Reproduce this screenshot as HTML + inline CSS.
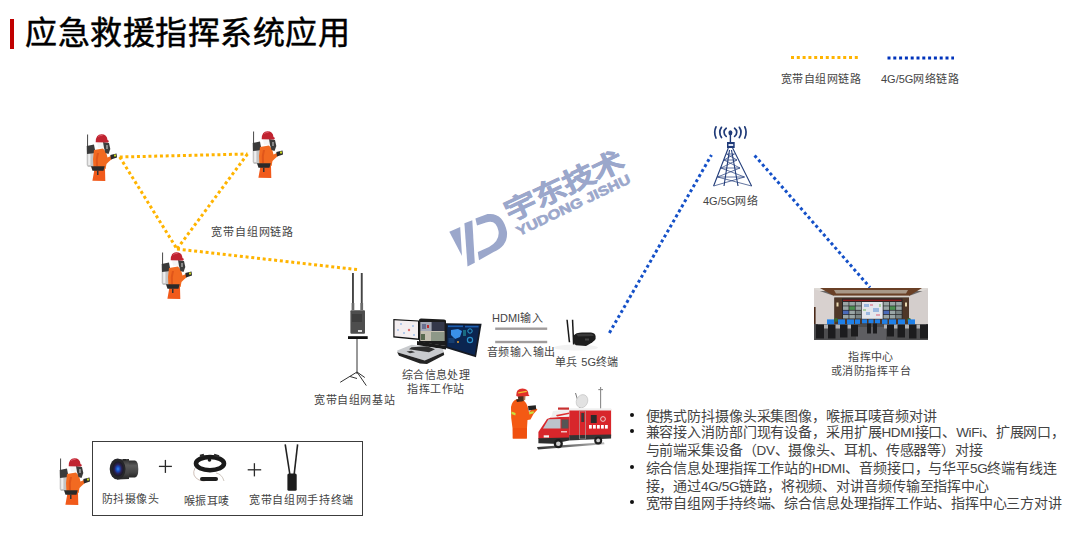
<!DOCTYPE html>
<html lang="zh-CN"><head><meta charset="utf-8">
<style>
html,body{margin:0;padding:0;background:#fff;}
body{width:1080px;height:535px;position:relative;overflow:hidden;font-family:"Liberation Sans",sans-serif;}
.t{position:absolute;white-space:nowrap;color:#444;font-weight:350;font-size:11px;letter-spacing:0.43px;line-height:14px;}
.c{text-align:center;}
#title{position:absolute;left:25px;top:12.5px;font-size:32px;line-height:40px;font-weight:400;color:#000;letter-spacing:0.55px;-webkit-text-stroke:0.5px #000;}
#bar{position:absolute;left:10px;top:19px;width:4px;height:30px;background:#C00000;}
svg{position:absolute;left:0;top:0;}
#bul{position:absolute;left:625px;top:407.5px;font-size:14px;letter-spacing:-0.12px;line-height:16.8px;color:#444;font-weight:350;}
#bul div{position:relative;padding-left:20.5px;white-space:nowrap;}
#bul div:before{content:"";position:absolute;left:5px;top:5px;width:4px;height:4px;border-radius:50%;background:#111;}
#bul div.n:before{display:none;}
.l{font-size:13.5px;letter-spacing:-0.35px;}
.z{letter-spacing:0;}
#box{position:absolute;left:91.5px;top:440.8px;width:271px;height:75.5px;border:1.6px solid #3c3c3c;box-sizing:border-box;}
</style></head><body>
<div id="bar"></div>
<div id="title">应急救援指挥系统应用</div>

<svg width="1080" height="535" viewBox="0 0 1080 535">
<defs>
<symbol id="ff" viewBox="0 0 32 50">
 <path d="M2.6 1.5 L2.5 24" stroke="#333" stroke-width="0.9" fill="none"/>
 <rect x="1.7" y="14" width="7.6" height="20" rx="2.8" fill="#c4c4c4"/>
 <rect x="3.2" y="17" width="2.2" height="15" fill="#efefef"/>
 <path d="M1.7 13 L9 11.5 L10.5 20 L2 21 Z" fill="#3a3a3a"/>
 <path d="M8 34 L9.5 36 L7.4 47.8 L20.3 48 L20 36 L20.5 34 Z" fill="#F15A1B"/>
 <path d="M9 17 L18 15.5 L21 19 L22.5 24.5 L26 23 L28 25 L23.5 29 L21.5 31 L20.5 36 L8.5 36 L8 26 Z" fill="#F26A21"/>
 <path d="M12 20 Q10 26 11 33 L13 33 Q12 26 14 20 Z" fill="#e0561a"/>
 <path d="M6 33.3 L19.7 33.3 L18.5 37.8 L7.5 37.8 Z" fill="#2a2a2a"/>
 <path d="M12 37.8 L13.5 37.8 L13.5 42 L12 42 Z" fill="#333"/>
 <path d="M11.9 8.6 L18.6 8.6 L18.6 14.8 L13 14.8 Z" fill="#f4f4f4"/>
 <path d="M18 9 L24 10 L25.3 16 L23.5 21 L20.5 20 L19 15 Z" fill="#3c3c3c"/>
 <path d="M21 12 L23 12 L23 16 L21 16 Z" fill="#888"/>
 <path d="M10.7 9.2 Q10.7 1.3 16.5 1.3 Q22 1.3 22.5 7 L24 8 L23 9.5 Z" fill="#C02330"/>
 <path d="M13 3.5 Q15 2.2 17.5 2.5" stroke="#e06070" stroke-width="0.8" fill="none"/>
 <path d="M25.3 22 L31.5 20.5 L32 24.5 L26 26.6 Z" fill="#2a2a2a"/>
 <rect x="29" y="21.5" width="2" height="2" fill="#c8d820"/>
</symbol>
</defs>

<!-- legend -->
<line x1="791" y1="57.5" x2="858" y2="57.5" stroke="#FFB400" stroke-width="3" stroke-dasharray="3 2.8"/>
<line x1="887.5" y1="58" x2="954" y2="58" stroke="#0033BB" stroke-width="3" stroke-dasharray="3 2.8"/>

<!-- yellow network -->
<g fill="none" stroke="#FFB400" stroke-width="3" stroke-dasharray="3 2.75">
  <line x1="119.7" y1="157" x2="247.5" y2="154"/>
  <line x1="119.7" y1="157" x2="177" y2="249"/>
  <line x1="247.5" y1="154" x2="177" y2="249"/>
  <line x1="177" y1="249" x2="357" y2="269.6"/>
</g>
<!-- blue -->
<g fill="none" stroke="#1450C8" stroke-width="3" stroke-dasharray="3 2.8">
  <line x1="609.4" y1="332.9" x2="711.5" y2="155"/>
  <line x1="754.6" y1="155.4" x2="870" y2="287.5"/>
</g>


<!-- base station -->
<g>
 <rect x="352" y="273" width="1.9" height="37" fill="#444"/>
 <rect x="360.8" y="273" width="1.9" height="37" fill="#444"/>
 <rect x="351.6" y="303" width="2.7" height="7" fill="#6a6a6a"/>
 <rect x="360.4" y="303" width="2.7" height="7" fill="#6a6a6a"/>
 <rect x="350.4" y="310.2" width="14.6" height="23.6" rx="1" fill="#4e4e4e"/>
 <rect x="352" y="314" width="10" height="8" fill="#3e3e3e"/>
 <rect x="358" y="330" width="4" height="2" fill="#ddd"/>
 <rect x="348" y="336.2" width="19.7" height="2.8" fill="#111"/>
 <g stroke="#333" stroke-width="1" fill="none">
  <line x1="357" y1="339" x2="357" y2="374"/>
  <line x1="357" y1="372" x2="340.2" y2="382.3"/>
  <line x1="357" y1="372" x2="366.3" y2="385.6"/>
  <line x1="357" y1="372" x2="364.8" y2="377.5"/>
  <line x1="350" y1="376.5" x2="357" y2="378.5"/>
 </g>
</g>

<!-- laptop workstation -->
<g>
 <path d="M393.3 319 L419 320.5 L419 340 L393.3 337.5 Z" fill="#111"/>
 <path d="M394.5 320.3 L418 321.6 L418 338.5 L394.5 336.3 Z" fill="#f4eef0"/>
 <circle cx="401" cy="324" r="0.8" fill="#6aa0e0"/><circle cx="409" cy="330" r="1.2" fill="#e07070"/>
 <circle cx="404" cy="333" r="0.8" fill="#6aa0e0"/><circle cx="413" cy="326" r="0.8" fill="#6aa0e0"/>
 <circle cx="398" cy="330" r="0.8" fill="#6aa0e0"/><circle cx="414" cy="335" r="0.8" fill="#6aa0e0"/>
 <path d="M419 320 Q419 318.5 421 318.5 L444 319.5 Q446 319.5 446 321 L446 346 L419 342 Z" fill="#1c1c1c"/>
 <rect x="420.3" y="322" width="11.5" height="9" fill="#a4a8b6"/>
 <rect x="431.8" y="322" width="12.7" height="9" fill="#34384a"/>
 <rect x="420.3" y="331" width="24.2" height="10" fill="#c6c0b2"/>
 <rect x="431" y="332" width="13" height="9" fill="#8e9888"/>
 <rect x="422" y="324" width="4" height="5" fill="#6a7090"/><rect x="427" y="325" width="2" height="3" fill="#c03030"/>
 <rect x="421" y="334" width="4" height="6" fill="#5a6a50"/>
 <path d="M445.8 323.2 L481.6 323.8 L476 357.2 L445.8 348 Z" fill="#161a22"/>
 <path d="M447.3 324.8 L479.6 325.3 L474.6 355 L447.3 346.6 Z" fill="#0b2550"/>
 <rect x="448" y="325.5" width="15" height="1.6" fill="#1e5fb0"/><rect x="465" y="325.8" width="13.5" height="1.6" fill="#1e5fb0"/>
 <path d="M451 330 L458 329 L462 331 L460 337 L455 339 L451 335 Z" fill="#3a90e8"/>
 <circle cx="470" cy="331" r="2.2" fill="none" stroke="#2aa0d0" stroke-width="1"/>
 <circle cx="470" cy="340" r="2.6" fill="none" stroke="#2a90c8" stroke-width="1.2"/>
 <rect x="463" y="330" width="3" height="6" fill="#1a6a80"/>
 <rect x="448.5" y="338" width="6" height="5" fill="#163e70"/>
 <circle cx="458" cy="342" r="1" fill="#e8a030"/>
 <path d="M417 341 L446 346 L446 349.5 L417 345 Z" fill="#1a1a1a"/>
 <path d="M397.2 350.4 L411.6 344.8 L443 349 L443.7 352.3 L424.7 360.5 L397.2 352.2 Z" fill="#c9cbce"/>
 <path d="M411.5 347.3 L427 346.2 L435 349.3 L429 352.3 L409 349.3 Z" fill="#2e2e2e"/>
 <path d="M406.5 351.5 L411.5 350.7 L415 352.2 L410 353.2 Z" fill="#3a3a3a"/>
 <path d="M397.2 352.2 L424.7 360.5 L443.7 352.3 L444.2 355 L427 364 L420 363.5 L399 355.8 Z" fill="#242424"/>
</g>

<!-- HDMI lines -->
<rect x="495.2" y="327.5" width="52" height="2.4" fill="#a09c9c"/>
<rect x="495.2" y="340.8" width="52" height="2.4" fill="#a09c9c"/>

<!-- 5G terminal -->
<g>
 <ellipse cx="576" cy="347.5" rx="22" ry="3" fill="#f2f2f2"/>
 <path d="M566.3 319.7 L567.8 319.7 L570.2 342.2 L568.7 342.2 Z" fill="#1a1a1a"/>
 <path d="M571.8 319.7 L573.3 319.7 L574.4 344.6 L572.9 344.6 Z" fill="#1a1a1a"/>
 <path d="M573.7 335.5 Q576 332.5 582 332.5 L591 332.5 Q595.6 333 595.6 336.5 L595.6 339 Q594 342 586 345.9 L576 345.2 Q573.7 344 573.7 341 Z" fill="#1d1d1d"/>
 <path d="M576 333.8 L592 333.8 L594 336 L578 336.5 Z" fill="#3a3a3a"/>
 <rect x="585" y="338.5" width="4" height="2" fill="#444"/>
</g>

<!-- tower -->
<g stroke="#1f3a78" fill="none">
 <g stroke-width="1.7" stroke-linecap="round">
  <path d="M726.2 128.2 A5 5 0 0 0 726.2 136.4"/>
  <path d="M734.6 128.2 A5 5 0 0 1 734.6 136.4"/>
  <path d="M721.5 127.3 A9 9 0 0 0 721.5 137.5"/>
  <path d="M739.3 127.3 A9 9 0 0 1 739.3 137.5"/>
  <path d="M716 126.8 A13 13 0 0 0 716 138"/>
  <path d="M744.8 126.8 A13 13 0 0 1 744.8 138"/>
 </g>
 <line x1="730.4" y1="135" x2="730.4" y2="142" stroke-width="1.4"/>
 <g stroke-width="1.1">
  <line x1="728.3" y1="148" x2="713.6" y2="186"/>
  <line x1="732.6" y1="148" x2="751.6" y2="186"/>
  <line x1="729.5" y1="150" x2="724" y2="186"/>
  <line x1="731.5" y1="150" x2="738" y2="186"/>
 </g>
 <g stroke-width="0.7">
  <line x1="726.5" y1="154" x2="734.5" y2="154"/>
  <line x1="724" y1="160" x2="737" y2="160"/>
  <line x1="721" y1="168" x2="740" y2="168"/>
  <line x1="717.5" y1="177" x2="744.5" y2="177"/>
  <path d="M726.5 154 L737 160 M734.5 154 L724 160 M724 160 L740 168 M737 160 L721 168 M721 168 L744.5 177 M740 168 L717.5 177 M717.5 177 L751.6 186 M744.5 177 L713.6 186"/>
 </g>
</g>
<ellipse cx="730.4" cy="132.8" rx="2" ry="2.6" fill="#1f3a78"/>
<rect x="727" y="142" width="7.7" height="6" fill="#1f3a78"/>
<rect x="728.5" y="144" width="4.7" height="2" fill="#dfe6f5"/>

<!-- command center photo -->
<g>
 <rect x="814" y="288" width="114" height="52" fill="#6a6868"/>
 <rect x="814" y="288" width="114" height="3" fill="#dedad6"/>
 <path d="M820 288 L922 288 L909 296 L834 296 Z" fill="#6a4026"/>
 <path d="M834 290 L908 290 L906 293.5 L836 293.5 Z" fill="#a89888"/>
 <rect x="834" y="295.6" width="75" height="2" fill="#d6d2cc"/>
 <path d="M814 289 L834.3 296 L834.3 324 L814 324 Z" fill="#d8d1cf"/>
 <path d="M928 289 L909 296 L909 324 L928 324 Z" fill="#d4cecc"/>
 <rect x="814" y="307" width="1.6" height="17" fill="#4a2a1a"/>
 <rect x="834.3" y="297.5" width="74.7" height="26.5" fill="#4f3728"/>
 <rect x="842" y="298.5" width="60.5" height="20.3" fill="#262628"/>
 <rect x="843" y="299.6" width="58.5" height="1.5" fill="#8a1c1c"/>
 <g fill="#9aa6a6">
  <rect x="843" y="302" width="5.6" height="3.6"/><rect x="849.3" y="302" width="5.6" height="3.6"/><rect x="855.6" y="302" width="5.6" height="3.6"/>
  <rect x="843" y="306.3" width="5.6" height="3.6"/><rect x="849.3" y="306.3" width="5.6" height="3.6" fill="#4a9050"/><rect x="855.6" y="306.3" width="5.6" height="3.6"/>
  <rect x="843" y="310.6" width="5.6" height="3.6" fill="#4a6ab8"/><rect x="849.3" y="310.6" width="5.6" height="3.6"/><rect x="855.6" y="310.6" width="5.6" height="3.6" fill="#7a8484"/>
  <rect x="843" y="314.9" width="5.6" height="3.6"/><rect x="849.3" y="314.9" width="5.6" height="3.6"/><rect x="855.6" y="314.9" width="5.6" height="3.6" fill="#7a8484"/>
  <rect x="883.5" y="302" width="5.6" height="3.6"/><rect x="889.8" y="302" width="5.6" height="3.6"/><rect x="896.1" y="302" width="5.6" height="3.6"/>
  <rect x="883.5" y="306.3" width="5.6" height="3.6"/><rect x="889.8" y="306.3" width="5.6" height="3.6" fill="#4a9050"/><rect x="896.1" y="306.3" width="5.6" height="3.6"/>
  <rect x="883.5" y="310.6" width="5.6" height="3.6" fill="#4a6ab8"/><rect x="889.8" y="310.6" width="5.6" height="3.6"/><rect x="896.1" y="310.6" width="5.6" height="3.6" fill="#7a8484"/>
  <rect x="883.5" y="314.9" width="5.6" height="3.6"/><rect x="889.8" y="314.9" width="5.6" height="3.6"/><rect x="896.1" y="314.9" width="5.6" height="3.6" fill="#7a8484"/>
 </g>
 <rect x="861.8" y="302" width="20.9" height="16.8" fill="#e4e6ec"/>
 <g fill="#9ab8e0"><rect x="864" y="304" width="5" height="3"/><rect x="873" y="308" width="6" height="4"/><rect x="866" y="312" width="4" height="3"/></g>
 <g fill="#e0a0b0"><rect x="870" y="304" width="3" height="2"/><rect x="876" y="314" width="4" height="2"/></g>
 <g fill="#a8d0a0"><rect x="863" y="309" width="3" height="2"/><rect x="879" y="304" width="2" height="3"/></g>
 <rect x="836.5" y="302.5" width="2" height="4" fill="#e8d8b0"/><rect x="905" y="302.5" width="2" height="4" fill="#e8d8b0"/>
 <circle cx="836" cy="320" r="2" fill="#3a6a30"/><circle cx="909" cy="320" r="2" fill="#3a6a30"/>
 <rect x="814" y="324" width="114" height="16" fill="#4c4c4e"/>
 <rect x="856" y="327" width="30" height="13" fill="#5e5e62"/>
 <g fill="#b0b0b2">
  <rect x="818" y="324.5" width="40" height="4"/><rect x="884" y="324.5" width="42" height="4"/>
 </g>
 <g fill="#1f80e8">
  <rect x="827" y="319.4" width="7" height="5"/><rect x="838" y="319.4" width="7" height="5"/><rect x="847" y="319.4" width="7" height="5"/><rect x="855" y="319.4" width="5" height="4.5"/>
  <rect x="862" y="319.4" width="5" height="4"/><rect x="868.5" y="319.4" width="5" height="4"/><rect x="875" y="319.4" width="5" height="4"/>
  <rect x="882" y="319.4" width="5.5" height="4.5"/><rect x="889" y="319.4" width="7" height="5"/><rect x="898" y="319.4" width="7" height="5"/><rect x="908" y="319.4" width="7" height="5"/>
 </g>
 <g fill="#1c1c1e">
  <rect x="816" y="324.5" width="8" height="14"/><rect x="828" y="324.5" width="7.5" height="14"/><rect x="840" y="324.5" width="7.5" height="13"/><rect x="851" y="324.5" width="7" height="12"/>
  <rect x="867" y="323.5" width="4" height="10"/><rect x="873" y="323.5" width="4" height="10"/>
  <rect x="887" y="324.5" width="7" height="12"/><rect x="897.5" y="324.5" width="7.5" height="13"/><rect x="909" y="324.5" width="7.5" height="14"/><rect x="920" y="324.5" width="8" height="14"/>
 </g>
</g>

<!-- watermark logo -->
<g fill="#9ba7cb">
 <path d="M449.3 231.7 L460.2 226.9 L462 256 Z"/>
 <path d="M464.4 223.2 L472.3 220.2 L474.8 262.7 L467.5 266.4 Z"/>
 <path fill-rule="evenodd" d="M475.4 218.4 L487.5 214.1 Q503 212 507 232 Q508 246 493.6 252 L479 260.3 L477.8 252 L489 247 Q500 241 498.5 231 Q496 219 486 222.5 L477 225.5 Z"/>
 <text transform="translate(509.8,221.8) rotate(-25.3)" font-family="Liberation Sans" font-weight="bold" font-size="26.5" textLength="128" lengthAdjust="spacingAndGlyphs" stroke="#9ba7cb" stroke-width="0.6">宇东技术</text>
 <text transform="translate(519,236.3) rotate(-25.6)" font-family="Liberation Sans" font-weight="bold" font-size="13.5" textLength="125" lengthAdjust="spacingAndGlyphs" stroke="#9ba7cb" stroke-width="0.6">YUDONG JISHU</text>
</g>

<!-- FF5 + vehicle -->
<g>
 <path d="M516 399.5 L522 398.5 L526 403 L527.5 406 L529 412 L531 410 L535 408 L537.5 409.5 L533.5 414 L530.5 419.5 L527.5 420 L527 428 L526.8 438.5 L512.8 438.5 L512.5 428 L511.2 418 L511 407 Q512 401 516 399.5 Z" fill="#F45A14"/>
 <path d="M513 428 L527 428 L526.8 438.5 L512.8 438.5 Z" fill="#F0500f"/>
 <path d="M511.5 411.6 L515.6 413 L515.4 415.5 L511.5 414 Z" fill="#c8e040"/>
 <path d="M529 412 L533.6 411.2 L533.8 413.2 L529.4 414.4 Z" fill="#c8e040"/>
 <path d="M516 399.5 L522 398.5 L524 401 L517 402 Z" fill="#3a2418"/>
 <ellipse cx="521.3" cy="397.5" rx="3.3" ry="3.8" fill="#4a3020"/>
 <path d="M523.5 395.5 L525.5 396 L525.2 400 L523.5 400.5 Z" fill="#b07858"/>
 <path d="M528 406 L535.8 405.3 L536.2 409.3 L528.6 410.5 Z" fill="#222"/>
 <path d="M516.2 395.5 Q516 388.6 522.5 388.6 Q528.5 388.8 528.5 394.5 L529.5 396 L517 396.5 Z" fill="#e0302a"/>
 <path d="M518 392.2 L526.5 390.8 L527 392 L518.3 393.4 Z" fill="#f2c030"/>
</g>
<g>
 <defs><linearGradient id="shd" x1="0" y1="0" x2="1" y2="0"><stop offset="0" stop-color="#333"/><stop offset="0.3" stop-color="#555"/><stop offset="1" stop-color="#bbb"/></linearGradient></defs>
 <path d="M537 447 L604 442.3 L604.5 444.3 L538 449.5 Z" fill="url(#shd)"/>
 <line x1="600.6" y1="387" x2="600.6" y2="410" stroke="#8a8a8a" stroke-width="1.1"/>
 <line x1="598.3" y1="389.6" x2="603" y2="389.6" stroke="#8a8a8a" stroke-width="1.1"/>
 <line x1="575.5" y1="393" x2="580" y2="408" stroke="#777" stroke-width="1"/>
 <ellipse cx="582" cy="401.2" rx="5.6" ry="6.8" transform="rotate(25 582 401.2)" fill="#e2e2e2" stroke="#c0c0c0" stroke-width="0.6"/>
 <rect x="569.2" y="409.2" width="41.9" height="27" fill="#d8262b"/>
 <rect x="569" y="408.3" width="42.1" height="2.2" fill="#f0f0f0"/>
 <path d="M538.4 432 L547 419 L551 417.5 L569.2 416.5 L569.2 438 L538.4 439 Z" fill="#d8262b"/>
 <path d="M551 417.5 L553 411 L569.2 409.3 L569.2 416.5 Z" fill="#f0f0f0"/>
 <path d="M556 415 L569.2 412.5 L569.2 414 L557 416.5 Z" fill="#e03030"/>
 <rect x="558" y="407.5" width="11" height="2.2" fill="#c83030"/>
 <path d="M543 428.5 L548.5 419.3 L560.5 419 L560.5 428.5 Z" fill="#bcc4cc"/>
 <rect x="561.5" y="419.5" width="7" height="9" fill="#555"/>
 <rect x="543.7" y="435.3" width="5.3" height="2.2" fill="#f4f4f4"/>
 <rect x="561" y="431" width="6" height="1.5" fill="#f0c0c0"/>
 <path d="M538.4 438.3 L569.2 437.5 L569.2 440.5 L553.4 443.7 L538.4 443.2 Z" fill="#2d2d2d"/>
 <path d="M569.2 435.2 L611.1 434.5 L611.1 438.5 L569.2 440.5 Z" fill="#353535"/>
 <rect x="579.7" y="411" width="5.9" height="28" fill="none" stroke="#b0b0b0" stroke-width="0.6"/>
 <rect x="581.3" y="413" width="2.8" height="9" fill="#3a3a3a"/>
 <rect x="590.8" y="415" width="5.9" height="8" fill="#2a2a2a"/>
 <g fill="#fff"><rect x="589" y="425" width="2.8" height="3.6"/><rect x="593" y="425" width="2.8" height="3.6"/><rect x="597" y="425" width="2.8" height="3.6"/><rect x="601" y="425" width="2.8" height="3.6"/><rect x="605" y="425" width="2.8" height="3.6"/></g>
 <circle cx="603" cy="419" r="2.4" fill="none" stroke="#f0f0f0" stroke-width="0.8"/>
 <circle cx="558.3" cy="443.7" r="4.6" fill="#1e1e1e"/><circle cx="558.3" cy="443.7" r="2.3" fill="#cfcfcf"/>
 <circle cx="598.2" cy="440.4" r="4" fill="#1e1e1e"/><circle cx="598.2" cy="440.4" r="1.9" fill="#cfcfcf"/>
</g>

<!-- bottom box items -->
<g>
 <defs><linearGradient id="barrel" x1="0" y1="0" x2="0" y2="1"><stop offset="0" stop-color="#2c2c2c"/><stop offset="0.3" stop-color="#5a5a5a"/><stop offset="0.7" stop-color="#444"/><stop offset="1" stop-color="#262626"/></linearGradient>
 <radialGradient id="lensg" cx="0.5" cy="0.5" r="0.5"><stop offset="0" stop-color="#3a8cf0"/><stop offset="0.35" stop-color="#1a48b8"/><stop offset="0.65" stop-color="#2a2050"/><stop offset="1" stop-color="#1a1a22"/></radialGradient></defs>
 <path d="M117 459.5 L129 459 L129 479 L117 479.5 Z" fill="url(#barrel)"/>
 <path d="M129 460.5 L135 460.5 Q138.3 461 138.3 469 Q138.3 477 135 477.5 L129 477.5 Z" fill="url(#barrel)"/>
 <rect x="123" y="459" width="3" height="1.5" fill="#222"/>
 <ellipse cx="117.6" cy="469" rx="7.9" ry="10.6" fill="#26262a"/>
 <ellipse cx="118" cy="469" rx="5.6" ry="7.4" fill="url(#lensg)"/>
 <g stroke="#2a2a2a" stroke-width="1.3">
  <line x1="158.9" y1="466.4" x2="171.9" y2="466.4"/><line x1="165.4" y1="459.9" x2="165.4" y2="472.9"/>
  <line x1="247.7" y1="469.8" x2="261.2" y2="469.8"/><line x1="254.4" y1="463.2" x2="254.4" y2="476.4"/>
 </g>
 <path d="M195 468 Q191 476 199 480 Q204 482 208 480" stroke="#c8b8b0" stroke-width="0.9" fill="none"/>
 <path d="M216 473 Q222 474 224 481" stroke="#d0c8c0" stroke-width="1" fill="none"/>
 <ellipse cx="210" cy="463.6" rx="14" ry="6.6" fill="none" stroke="#1a1a1a" stroke-width="4.6"/>
 <path d="M200 456 L204 455 M214 455 L219 456.5" stroke="#2a2a2a" stroke-width="2.4"/>
 <circle cx="209.5" cy="460" r="1.8" fill="#1a1a1a"/>
 <rect x="200" y="477" width="18" height="4" rx="2" fill="#1e1e1e"/>
 <line x1="285.2" y1="444.4" x2="289.8" y2="474" stroke="#222" stroke-width="1.6"/>
 <line x1="297.6" y1="444.4" x2="294.2" y2="474" stroke="#222" stroke-width="1.6"/>
 <rect x="287.4" y="473.5" width="9.3" height="17.2" rx="1.5" fill="#1c1c1c"/>
</g>

<!-- firefighters -->
<use href="#ff" x="85" y="133" width="32" height="50"/>
<use href="#ff" x="251" y="130" width="32" height="50"/>
<use href="#ff" x="160" y="251" width="32" height="50"/>
<use href="#ff" x="58" y="457" width="32" height="50"/>

</svg>

<!-- labels -->
<div class="t" style="left:781px;top:72px;">宽带自组网链路</div>
<div class="t" style="left:881px;top:72px;"><span class="z">4G/5G</span>网络链路</div>
<div class="t" style="left:211px;top:225px;letter-spacing:0.9px;">宽带自组网链路</div>
<div class="t" style="left:703px;top:194px;"><span class="z">4G/5G</span>网络</div>
<div class="t" style="left:314px;top:393px;letter-spacing:0.6px;">宽带自组网基站</div>
<div class="t c" style="left:395px;top:368px;width:82px;">综合信息处理<br>指挥工作站</div>
<div class="t" style="left:492px;top:311px;letter-spacing:0.6px;"><span class="z">HDMI</span>输入</div>
<div class="t" style="left:487px;top:345px;">音频输入输出</div>
<div class="t" style="left:555px;top:355px;">单兵 <span class="z">5G</span>终端</div>
<div class="t c" style="left:821px;top:351px;width:100px;line-height:13.5px;">指挥中心<br>或消防指挥平台</div>

<div id="box"></div>
<div class="t" style="left:102px;top:492px;">防抖摄像头</div>
<div class="t" style="left:184px;top:494px;">喉振耳唛</div>
<div class="t" style="left:249px;top:493px;letter-spacing:0.68px;">宽带自组网手持终端</div>

<div id="bul">
<div>便携式防抖摄像头采集图像，喉振耳唛音频对讲</div>
<div>兼容接入消防部门现有设备，采用扩展<span class="l">HDMI</span>接口、<span class="l">WiFi</span>、扩展网口，</div>
<div class="n">与前端采集设备（<span class="l">DV</span>、摄像头、耳机、传感器等）对接</div>
<div>综合信息处理指挥工作站的<span class="l">HDMI</span>、音频接口，与华平<span class="l">5G</span>终端有线连</div>
<div class="n">接，通过<span class="l">4G/5G</span>链路，将视频、对讲音频传输至指挥中心</div>
<div>宽带自组网手持终端、综合信息处理指挥工作站、指挥中心三方对讲</div>
</div>
</body></html>
